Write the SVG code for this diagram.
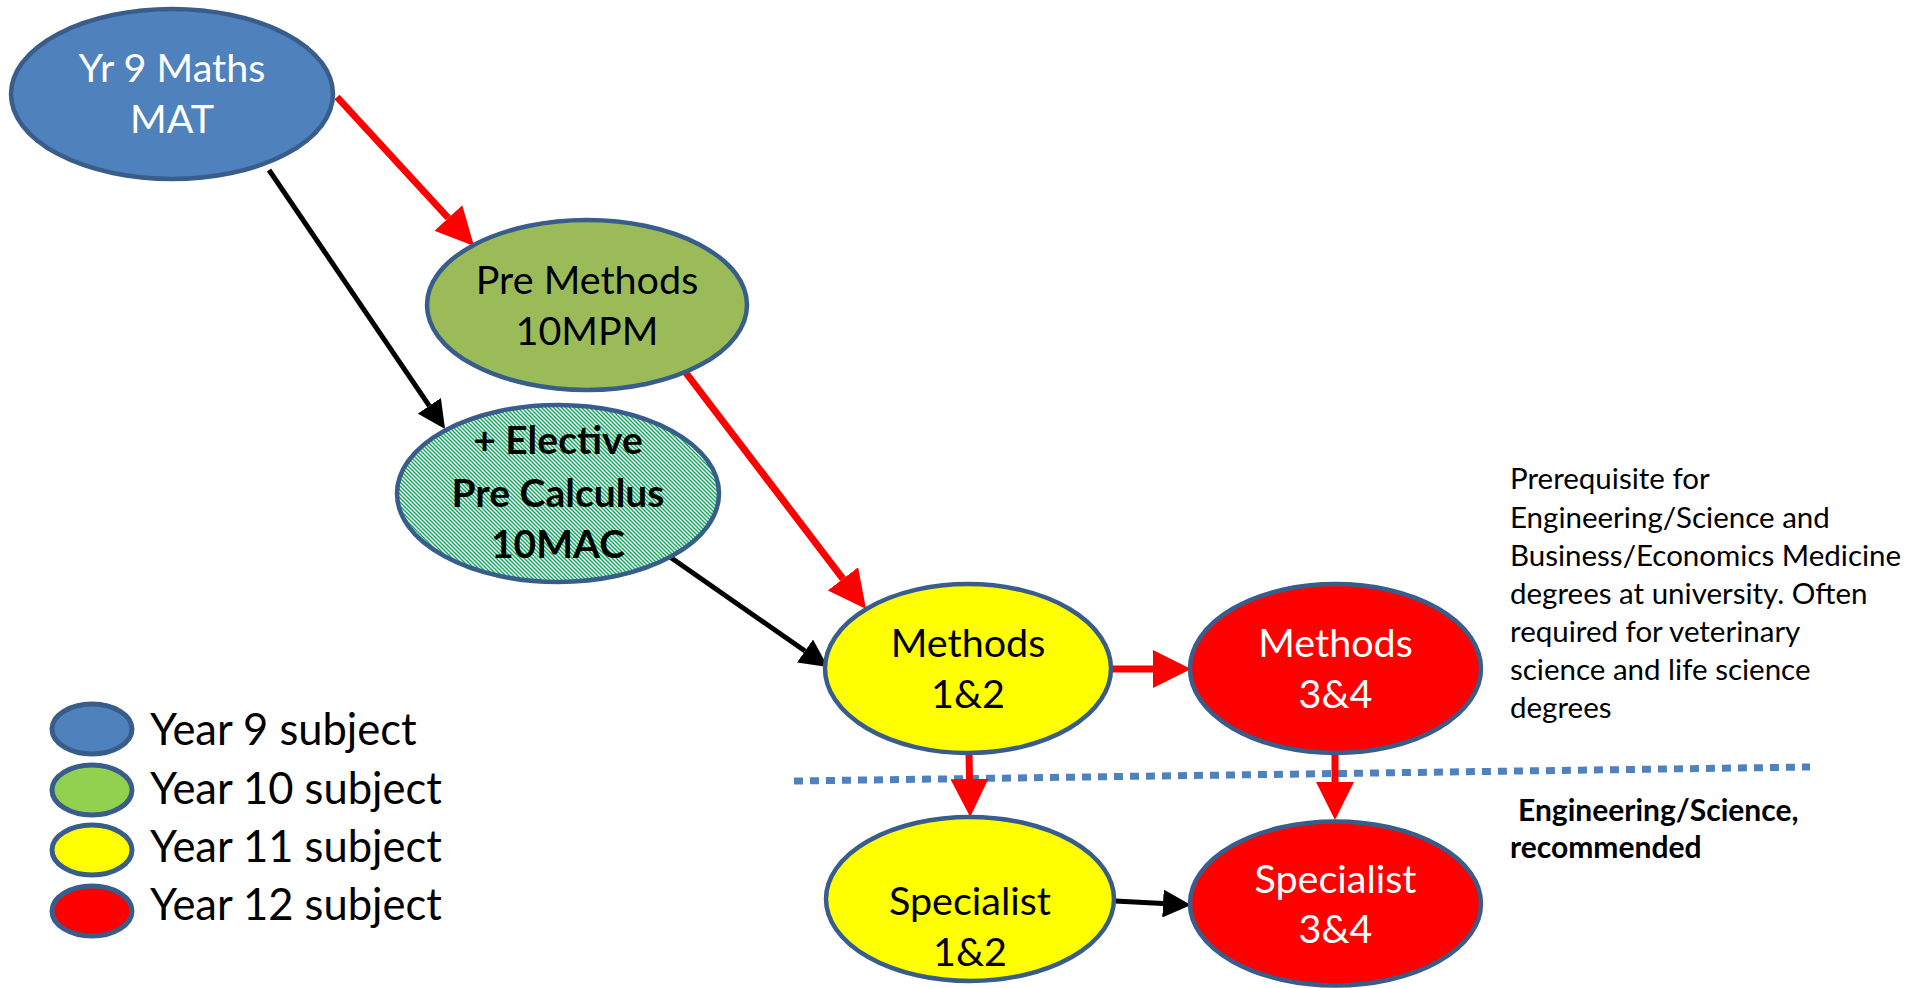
<svg xmlns="http://www.w3.org/2000/svg" width="1921" height="988" viewBox="0 0 1921 988">
<style>
  .node { stroke: #385D8A; stroke-width: 4.5; }
  .t { font-family: Lato, "Open Sans", "Liberation Sans", sans-serif; font-size: 39.5px; text-anchor: middle; }
  .w { fill: #FFFFFF; }
  .k { fill: #000000; }
  .b { font-weight: bold; font-size: 39px; }
  .red { stroke: #FF0000; stroke-width: 7; fill: none; }
  .blk { stroke: #000000; stroke-width: 5; fill: none; }
  .leg { stroke: #385D8A; stroke-width: 5; }
  .legt { font-family: Lato, "Open Sans", "Liberation Sans", sans-serif; font-size: 43.5px; fill: #000; }
  .desc { font-family: Lato, "Open Sans", "Liberation Sans", sans-serif; font-size: 29.5px; fill: #000; }
  .descb { font-family: Lato, "Open Sans", "Liberation Sans", sans-serif; font-size: 30px; font-weight: bold; fill: #000; }
</style>
<defs>
  <pattern id="hatch" patternUnits="userSpaceOnUse" width="4" height="4">
    <rect width="4" height="4" fill="#00B050"/>
    <path d="M-1,-1 L5,5 M-1,3 L1,5 M3,-1 L5,1" stroke="#FFFFFF" stroke-width="1.4"/>
  </pattern>
  <marker id="rh" markerUnits="userSpaceOnUse" viewBox="0 -19 38 38" refX="0" refY="0" markerWidth="38" markerHeight="38" orient="auto">
    <path d="M0,-19 L38,0 L0,19 z" fill="#FF0000"/>
  </marker>
  <marker id="bh" markerUnits="userSpaceOnUse" viewBox="0 -14 28 28" refX="0" refY="0" markerWidth="28" markerHeight="28" orient="auto">
    <path d="M0,-14 L28,0 L0,14 z" fill="#000000"/>
  </marker>
</defs>
<rect width="1921" height="988" fill="#FFFFFF"/>

<g id="divider">
  <line x1="794" y1="781" x2="1810" y2="767" stroke="#4F81BD" stroke-width="7" stroke-dasharray="9 7"/>
</g>

<g id="connectors">
  <line class="red" x1="337" y1="97" x2="448.3" y2="218" marker-end="url(#rh)"/>
  <line class="blk" x1="269" y1="170" x2="429.3" y2="405.8" marker-end="url(#bh)"/>
  <line class="red" x1="686" y1="373" x2="843" y2="578.8" marker-end="url(#rh)"/>
  <line class="blk" x1="670" y1="557" x2="805" y2="651" marker-end="url(#bh)"/>
  <line class="red" x1="1112" y1="669" x2="1153" y2="669" marker-end="url(#rh)"/>
  <line class="red" x1="969" y1="752" x2="969.5" y2="779" marker-end="url(#rh)"/>
  <line class="red" x1="1335" y1="752" x2="1335" y2="782" marker-end="url(#rh)"/>
  <line class="blk" x1="1115" y1="901" x2="1163" y2="903.5" marker-end="url(#bh)"/>
</g>

<g id="yr9">
  <ellipse class="node" cx="172" cy="94" rx="161" ry="85" fill="#4F81BD"/>
  <text class="t w" x="172" y="82">Yr 9 Maths</text>
  <text class="t w" x="172" y="133">MAT</text>
</g>
<g id="premethods">
  <ellipse class="node" cx="587" cy="305" rx="160" ry="85" fill="#9BBB59"/>
  <text class="t k" x="587" y="294">Pre Methods</text>
  <text class="t k" x="587" y="345">10MPM</text>
</g>
<g id="elective">
  <ellipse class="node" cx="558" cy="493.5" rx="161" ry="88.5" fill="url(#hatch)"/>
  <text class="t k b" x="558" y="454">+ Elective</text>
  <text class="t k b" x="558" y="507">Pre Calculus</text>
  <text class="t k b" x="558" y="558">10MAC</text>
</g>
<g id="methods12">
  <ellipse class="node" cx="968" cy="668.5" rx="143" ry="84.5" fill="#FFFF00"/>
  <text class="t k" x="968" y="657">Methods</text>
  <text class="t k" x="968" y="708">1&amp;2</text>
</g>
<g id="methods34">
  <ellipse class="node" cx="1335.5" cy="668.5" rx="145.5" ry="84.5" fill="#FF0000"/>
  <text class="t w" x="1335.5" y="657">Methods</text>
  <text class="t w" x="1335.5" y="708">3&amp;4</text>
</g>
<g id="specialist12">
  <ellipse class="node" cx="970" cy="899" rx="144" ry="82" fill="#FFFF00"/>
  <text class="t k" x="970" y="915">Specialist</text>
  <text class="t k" x="970" y="966">1&amp;2</text>
</g>
<g id="specialist34">
  <ellipse class="node" cx="1335.5" cy="903.5" rx="145.5" ry="82" fill="#FF0000"/>
  <text class="t w" x="1335.5" y="893">Specialist</text>
  <text class="t w" x="1335.5" y="943">3&amp;4</text>
</g>

<g id="notes">
  <text class="desc" x="1510" y="489">Prerequisite for</text>
  <text class="desc" x="1510" y="528">Engineering/Science and</text>
  <text class="desc" x="1510" y="566">Business/Economics Medicine</text>
  <text class="desc" x="1510" y="604">degrees at university. Often</text>
  <text class="desc" x="1510" y="642">required for veterinary</text>
  <text class="desc" x="1510" y="680">science and life science</text>
  <text class="desc" x="1510" y="718">degrees</text>
  <text class="descb" x="1518" y="821">Engineering/Science,</text>
  <text class="descb" x="1510" y="858">recommended</text>
</g>

<g id="legend">
  <ellipse class="leg" cx="92" cy="729" rx="40" ry="25" fill="#4F81BD"/>
  <text class="legt" x="150" y="745">Year 9 subject</text>
  <ellipse class="leg" cx="92" cy="790" rx="40" ry="25" fill="#92D050"/>
  <text class="legt" x="150" y="804">Year 10 subject</text>
  <ellipse class="leg" cx="92" cy="850" rx="40" ry="25" fill="#FFFF00"/>
  <text class="legt" x="150" y="862">Year 11 subject</text>
  <ellipse class="leg" cx="92" cy="911" rx="40" ry="25" fill="#FF0000"/>
  <text class="legt" x="150" y="920">Year 12 subject</text>
</g>
</svg>
